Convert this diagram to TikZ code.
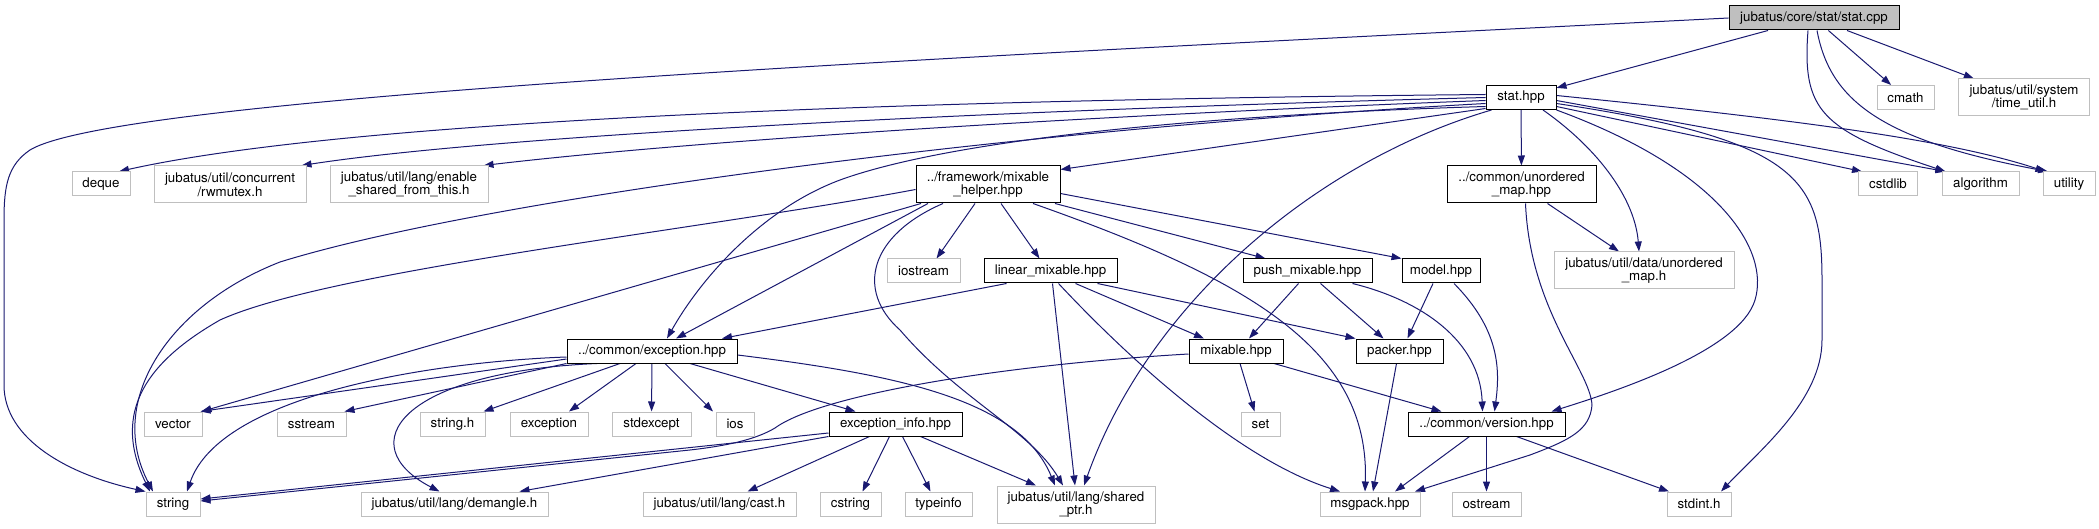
\documentclass[tikz,border=0pt]{standalone}
\usepackage{fontspec}
\setmainfont{TeX Gyre Heros}
\usetikzlibrary{arrows.meta,backgrounds}
\definecolor{edgeblue}{HTML}{191970}
\definecolor{extgray}{HTML}{BFBFBF}
\newcommand{\nodefont}{\fontsize{13.3}{13.6}\selectfont}
\tikzset{
  bw/.style={minimum width=#1pt},
  bh/.style={minimum height=#1pt},
  box/.style={rectangle, line width=1pt, inner sep=0pt, align=center, font=\nodefont, fill=white},
  int/.style={box, draw=black},
  ext/.style={box, draw=extgray},
  root/.style={box, draw=black, fill=extgray},
  e/.style={draw=edgeblue, line width=1pt, -{Triangle[length=10pt,width=7pt]}},
}
\begin{document}
\begin{tikzpicture}[x=1pt,y=-1pt]
\useasboundingbox (0,0) rectangle (2099,529);
% nodes
\node[root,bw=170,bh=24] (statcpp) at (1814,18) {jubatus/core/stat/stat.cpp};
\node[int,bw=70,bh=24] (stathpp) at (1521,97.5) {stat.hpp};
\node[ext,bw=57,bh=24] (cmath) at (1905.5,97.5) {cmath};
\node[ext,bw=131,bh=37] (timeutil) at (2024,97.5) {jubatus/util/system\\/time\_util.h};
\node[ext,bw=58,bh=24] (deque) at (101,184) {deque};
\node[ext,bw=152,bh=37] (rwmutex) at (230,184.5) {jubatus/util/concurrent\\/rwmutex.h};
\node[ext,bw=158,bh=37] (enable) at (409,184.5) {jubatus/util/lang/enable\\\_shared\_from\_this.h};
\node[int,bw=144,bh=37] (mixhelper) at (988,184.5) {../framework/mixable\\\_helper.hpp};
\node[int,bw=149,bh=37] (umaphpp) at (1521.5,184.5) {../common/unordered\\\_map.hpp};
\node[ext,bw=59,bh=24] (cstdlib) at (1888,184) {cstdlib};
\node[ext,bw=77,bh=24] (algorithm) at (1980.5,184) {algorithm};
\node[ext,bw=52,bh=24] (utility) at (2069,184) {utility};
\node[ext,bw=73,bh=24] (iostream) at (923.5,271) {iostream};
\node[int,bw=133,bh=24] (linmix) at (1050.5,271) {linear\_mixable.hpp};
\node[int,bw=129,bh=24] (pushmix) at (1307.5,271) {push\_mixable.hpp};
\node[int,bw=78,bh=24] (model) at (1441,271) {model.hpp};
\node[ext,bw=180,bh=37] (dataumap) at (1644,270.5) {jubatus/util/data/unordered\\\_map.h};
\node[int,bw=170,bh=24] (exc) at (652,351) {../common/exception.hpp};
\node[int,bw=94,bh=24] (mixable) at (1236,351) {mixable.hpp};
\node[int,bw=87,bh=24] (packer) at (1399.5,351) {packer.hpp};
\node[ext,bw=58,bh=24] (vector) at (173,424) {vector};
\node[ext,bw=69,bh=24] (sstream) at (311.5,424) {sstream};
\node[ext,bw=65,bh=24] (stringh) at (452.5,424) {string.h};
\node[ext,bw=78,bh=24] (exception) at (549,424) {exception};
\node[ext,bw=79,bh=24] (stdexcept) at (651.5,424) {stdexcept};
\node[ext,bw=38,bh=24] (ios) at (735,424) {ios};
\node[int,bw=133,bh=24] (excinfo) at (895.5,424) {exception\_info.hpp};
\node[ext,bw=39,bh=24] (set) at (1260.5,424) {set};
\node[int,bw=157,bh=24] (version) at (1486.5,424) {../common/version.hpp};
\node[ext,bw=54,bh=24] (string) at (173,504) {string};
\node[ext,bw=187,bh=24] (demangle) at (454.5,504) {jubatus/util/lang/demangle.h};
\node[ext,bw=153,bh=24] (cast) at (719.5,504) {jubatus/util/lang/cast.h};
\node[ext,bw=61,bh=24] (cstring) at (850.5,504) {cstring};
\node[ext,bw=67,bh=24] (typeinfo) at (938.5,504) {typeinfo};
\node[ext,bw=158,bh=37] (sharedptr) at (1076,504.5) {jubatus/util/lang/shared\\\_ptr.h};
\node[ext,bw=100,bh=24] (msgpack) at (1370,504) {msgpack.hpp};
\node[ext,bw=69,bh=24] (ostream) at (1486.5,504) {ostream};
\node[ext,bw=64,bh=24] (stdint) at (1699,504) {stdint.h};
% edges
\begin{scope}[on background layer]
% stat.cpp
\draw[e] (statcpp.west) .. controls (1000,55) and (120,95) .. (30,150) .. controls (8,165) and (4,185) .. (4,220) -- (4,385) .. controls (4,440) and (70,475) .. (string.north west);
\draw[e] (statcpp) -- (stathpp);
\draw[e] (statcpp) -- (cmath);
\draw[e] (statcpp) -- (timeutil);
\draw[e] ([xshift=-6pt]statcpp.south) .. controls (1802,110) and (1820,130) .. ([xshift=-35pt]algorithm.north);
\draw[e] ([xshift=3pt]statcpp.south) .. controls (1830,100) and (1880,140) .. ([xshift=-21pt]utility.north);
% stat.hpp
\draw[e] ([yshift=3pt]stathpp.west) .. controls (900,100) and (350,120) .. ([xshift=18pt]deque.north);
\draw[e] (stathpp.west) .. controls (1000,110) and (500,135) .. ([xshift=-5pt]rwmutex.north east);
\draw[e] ([yshift=-3pt]stathpp.west) .. controls (1100,115) and (700,140) .. ([xshift=-5pt]enable.north east);
\draw[e] ([yshift=-6pt]stathpp.west) .. controls (1000,130) and (480,200) .. (280,262) .. controls (170,305) and (105,400) .. ([xshift=-20pt]string.north);
\draw[e] ([yshift=-9pt]stathpp.west) .. controls (1200,115) and (950,140) .. (840,180) .. controls (760,210) and (700,280) .. ([xshift=15pt]exc.north);
\draw[e] ([yshift=-11pt]stathpp.west) -- ([yshift=-4pt]mixhelper.north east);
\draw[e] ([xshift=6pt]stathpp.south west) .. controls (1320,160) and (1150,300) .. ([xshift=8pt]sharedptr.north);
\draw[e] (stathpp) -- (umaphpp);
\draw[e] ([xshift=22pt]stathpp.south) .. controls (1600,150) and (1635,200) .. ([xshift=-5pt]dataumap.north);
\draw[e] (stathpp.south east) .. controls (1720,170) and (1770,250) .. (1755,300) .. controls (1740,350) and (1620,390) .. ([xshift=65pt]version.north);
\draw[e] ([yshift=-6pt]stathpp.east) .. controls (1800,140) and (1822,180) .. (1822,280) -- (1822,340) .. controls (1822,400) and (1760,450) .. ([xshift=22pt]stdint.north);
\draw[e] ([yshift=-9pt]stathpp.east) -- ([xshift=4pt]cstdlib.north west);
\draw[e] ([yshift=-3pt]stathpp.east) -- ([xshift=4pt]algorithm.north west);
\draw[e] ([yshift=2pt]stathpp.east) .. controls (1800,120) and (1950,140) .. ([xshift=3pt]utility.north west);
% mixable_helper
\draw[e] ([xshift=-67pt]mixhelper.south) -- ([xshift=-1pt]vector.north east);
\draw[e] ([yshift=-5pt]mixhelper.west) .. controls (700,230) and (330,270) .. (220,320) .. controls (150,360) and (110,410) .. ([xshift=-23pt]string.north);
\draw[e] ([xshift=-60pt]mixhelper.south) -- ([xshift=24pt]exc.north);
\draw[e] ([xshift=-45pt]mixhelper.south) .. controls (870,235) and (855,290) .. (900,330) .. controls (960,400) and (1030,430) .. ([xshift=-13pt]sharedptr.north);
\draw[e] ([xshift=-13pt]mixhelper.south) -- ([xshift=13pt]iostream.north);
\draw[e] ([xshift=13pt]mixhelper.south) -- ([xshift=-11pt]linmix.north);
\draw[e] ([xshift=67pt]mixhelper.south) -- ([xshift=-42pt]pushmix.north);
\draw[e] ([yshift=-9pt]mixhelper.east) -- (model.north west);
\draw[e] ([xshift=45pt]mixhelper.south) .. controls (1250,280) and (1370,350) .. ([xshift=-5pt]msgpack.north);
% linear_mixable
\draw[e] ([xshift=-44pt]linmix.south) -- ([xshift=70pt]exc.north);
\draw[e] ([xshift=2pt]linmix.south) -- ([xshift=-1pt]sharedptr.north);
\draw[e] ([xshift=8pt]linmix.south) .. controls (1130,360) and (1240,460) .. ([xshift=-30pt]msgpack.north);
\draw[e] ([xshift=25pt]linmix.south) -- ([xshift=-32pt]mixable.north);
\draw[e] ([xshift=47pt]linmix.south) -- (packer.north west);
% push_mixable
\draw[e] ([xshift=-9pt]pushmix.south) -- ([xshift=13pt]mixable.north);
\draw[e] ([xshift=13pt]pushmix.south) -- ([xshift=-16pt]packer.north);
\draw[e] ([xshift=45pt]pushmix.south) .. controls (1420,300) and (1480,340) .. ([xshift=-4pt]version.north);
% model
\draw[e] ([xshift=-8pt]model.south) -- ([xshift=8pt]packer.north);
\draw[e] ([xshift=13pt]model.south) .. controls (1500,330) and (1500,370) .. ([xshift=8pt]version.north);
% mixable
\draw[e] ([yshift=-3pt]mixable.west) .. controls (1000,365) and (820,395) .. (775,428) .. controls (755,440) and (725,446) .. (690,450) -- ([yshift=3pt]string.east);
\draw[e] ([xshift=4pt]mixable.south) -- ([xshift=-6pt]set.north);
\draw[e] ([xshift=38pt]mixable.south) -- ([xshift=-45pt]version.north);
% packer
\draw[e] ([xshift=-3pt]packer.south) -- ([xshift=3pt]msgpack.north);
% version
\draw[e] ([xshift=-17pt]version.south) -- ([xshift=25pt]msgpack.north);
\draw[e] (version) -- (ostream);
\draw[e] ([xshift=30pt]version.south) -- ([xshift=-30pt]stdint.north);
% unordered_map.hpp
\draw[e] ([xshift=26pt]umaphpp.south) -- ([xshift=-25pt]dataumap.north);
\draw[e] ([xshift=4pt]umaphpp.south) .. controls (1530,310) and (1590,370) .. (1592,405) .. controls (1590,430) and (1570,440) .. (1530,455) -- ([xshift=45pt]msgpack.north);
% exception.hpp
\draw[e] ([yshift=-8pt]exc.west) -- ([xshift=-2pt]vector.north east);
\draw[e] (exc.south west) -- ([xshift=-2pt]sstream.north east);
\draw[e] ([yshift=-6pt]exc.west) .. controls (430,362) and (220,395) .. ([xshift=14pt]string.north);
\draw[e] ([xshift=-55pt]exc.south) .. controls (400,372) and (350,445) .. ([xshift=-15pt]demangle.north);
\draw[e] ([xshift=-32pt]exc.south) -- ([xshift=-2pt]stringh.north east);
\draw[e] ([xshift=-16pt]exc.south) -- ([xshift=20pt]exception.north);
\draw[e] (exc) -- (stdexcept);
\draw[e] ([xshift=13pt]exc.south) -- ([xshift=-22pt]ios.north);
\draw[e] ([xshift=38pt]exc.south) -- ([xshift=-40pt]excinfo.north);
\draw[e] ([yshift=-4pt]exc.east) .. controls (900,375) and (1020,400) .. ([xshift=-21pt]sharedptr.north);
% exception_info.hpp
\draw[e] ([yshift=-9pt]excinfo.west) -- ([yshift=5pt]string.east);
\draw[e] (excinfo.south west) -- ([xshift=65pt]demangle.north);
\draw[e] ([xshift=-26pt]excinfo.south) -- ([xshift=28pt]cast.north);
\draw[e] ([xshift=-6pt]excinfo.south) -- ([xshift=12pt]cstring.north);
\draw[e] ([xshift=7pt]excinfo.south) -- ([xshift=-8pt]typeinfo.north);
\draw[e] ([xshift=25pt]excinfo.south) -- ([xshift=-40pt]sharedptr.north);
\end{scope}
\end{tikzpicture}
\end{document}
